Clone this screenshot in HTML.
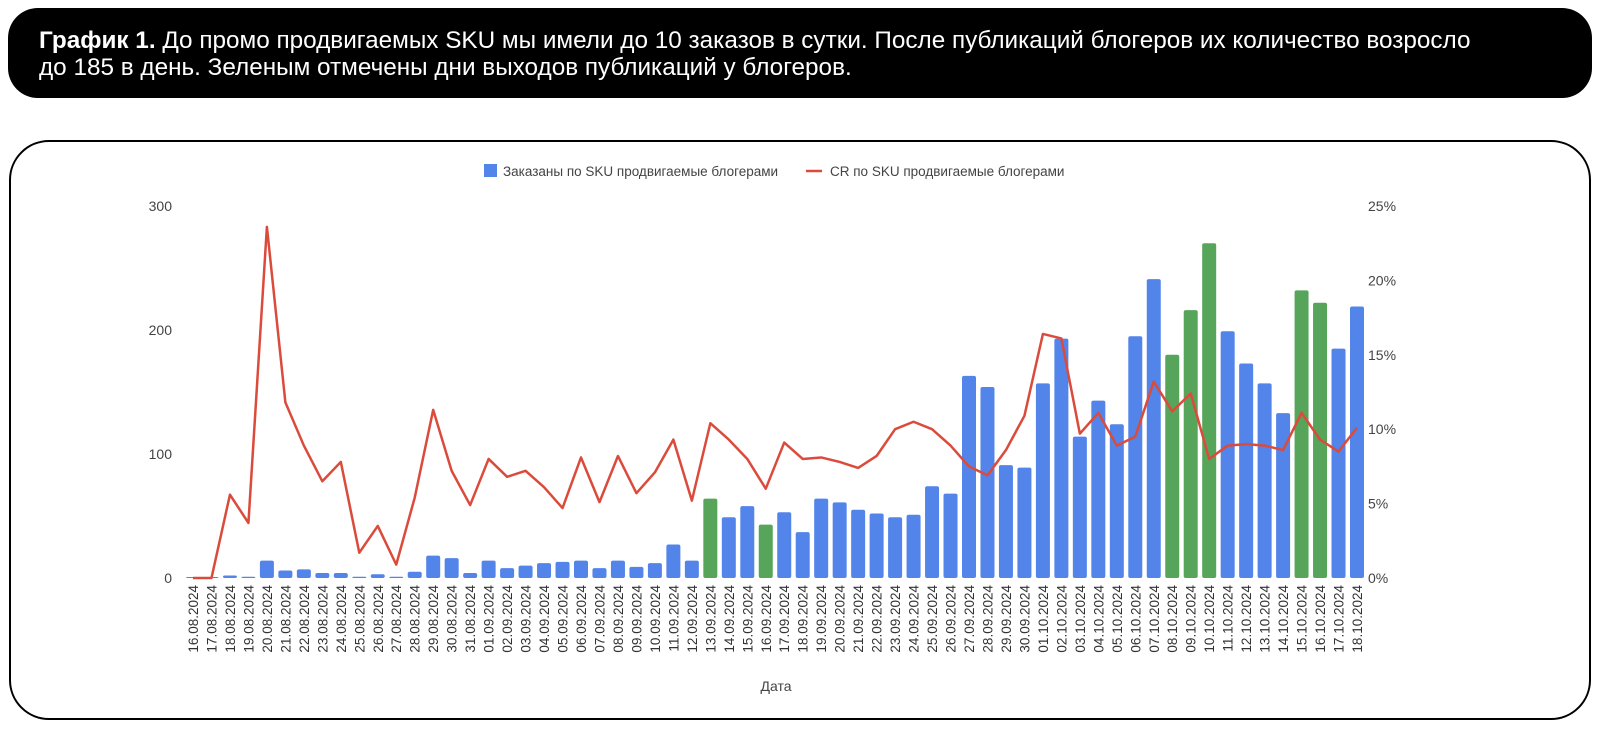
<!DOCTYPE html>
<html><head><meta charset="utf-8">
<style>
body{margin:0;width:1600px;height:733px;background:#fff;font-family:"Liberation Sans",sans-serif;overflow:hidden;position:relative}
#title{position:absolute;left:8px;top:8px;width:1584px;height:90px;background:#000;border-radius:30px;color:#fff;box-sizing:border-box;padding:19px 0 0 31px;font-size:24.3px;line-height:27px;white-space:nowrap}
#box{position:absolute;left:9px;top:140px;width:1582px;height:580px;border:2px solid #000;border-radius:40px;box-sizing:border-box}
svg{position:absolute;left:0;top:0}
</style></head><body>
<div id="title"><b>График 1.</b> До промо продвигаемых SKU мы имели до 10 заказов в сутки. После публикаций блогеров их количество возросло<br>до 185 в день. Зеленым отмечены дни выходов публикаций у блогеров.</div>
<div id="box"></div>
<svg id="chart" width="1600" height="733"></svg>
<script>
const dates=["16.08","17.08","18.08","19.08","20.08","21.08","22.08","23.08","24.08","25.08","26.08","27.08","28.08","29.08","30.08","31.08","01.09","02.09","03.09","04.09","05.09","06.09","07.09","08.09","09.09","10.09","11.09","12.09","13.09","14.09","15.09","16.09","17.09","18.09","19.09","20.09","21.09","22.09","23.09","24.09","25.09","26.09","27.09","28.09","29.09","30.09","01.10","02.10","03.10","04.10","05.10","06.10","07.10","08.10","09.10","10.10","11.10","12.10","13.10","14.10","15.10","16.10","17.10","18.10"];
const orders=[0,0,2,1,14,6,7,4,4,1,3,1,5,18,16,4,14,8,10,12,13,14,8,14,9,12,27,14,64,49,58,43,53,37,64,61,55,52,49,51,74,68,163,154,91,89,157,193,114,143,124,195,241,180,216,270,199,173,157,133,232,222,185,219];
const cr=[0,0,5.6,3.7,23.6,11.8,8.9,6.5,7.8,1.7,3.5,0.9,5.4,11.3,7.2,4.9,8.0,6.8,7.2,6.1,4.7,8.1,5.1,8.2,5.7,7.1,9.3,5.2,10.4,9.3,8.0,6.0,9.1,8.0,8.1,7.8,7.4,8.2,10.0,10.5,10.0,8.9,7.5,6.9,8.6,10.9,16.4,16.1,9.7,11.1,8.9,9.5,13.2,11.2,12.4,8.0,8.9,9.0,8.9,8.6,11.1,9.3,8.5,10.1];
const greenDays=["13.09","16.09","08.10","09.10","10.10","15.10","16.10"];
const leftTicks=[0,100,200,300];
const rightTicks=[0,5,10,15,20,25];
const svg=document.getElementById('chart');const NS='http://www.w3.org/2000/svg';
const X0=193,STEP=(1357-193)/63,Y0=578,YT=206;
const x=i=>X0+i*STEP;
const yL=v=>Y0-(v/300)*(Y0-YT);
const yR=v=>Y0-(v/25)*(Y0-YT);
function mk(t,a){const e=document.createElementNS(NS,t);for(const k in a)e.setAttribute(k,a[k]);svg.appendChild(e);return e;}
leftTicks.forEach(v=>{const t=mk('text',{x:172,y:yL(v)+5,'text-anchor':'end','font-size':14,fill:'#444','font-family':'Liberation Sans'});t.textContent=v;

});
rightTicks.forEach(v=>{const t=mk('text',{x:1368,y:yR(v)+5,'font-size':14,fill:'#444','font-family':'Liberation Sans'});t.textContent=v+'%';

});
orders.forEach((v,i)=>{const h=Math.max(Y0-yL(v),1);const g=greenDays.includes(dates[i]);
const r=mk('rect',{x:x(i)-7,y:Y0-h,width:14,height:h,rx:2,fill:g?'#57a55a':'#5284ea'});


const t=mk('text',{transform:`translate(${x(i)+5},585) rotate(-90)`,'text-anchor':'end','font-size':13.5,fill:'#333','font-family':'Liberation Sans'});t.textContent=dates[i]+'.2024';

});
const p=mk('polyline',{points:cr.map((v,i)=>x(i)+','+yR(v)).join(' '),fill:'none',stroke:'#db4b3c','stroke-width':2.5,'stroke-linejoin':'round'});


const xt=mk('text',{x:776,y:691,'text-anchor':'middle','font-size':14,fill:'#444','font-family':'Liberation Sans'});xt.textContent='Дата';


const l1=mk('rect',{x:484,y:164,width:13,height:13,fill:'#5284ea'});


const lt1=mk('text',{x:503,y:176,'font-size':13.5,fill:'#444','font-family':'Liberation Sans'});lt1.textContent='Заказаны по SKU продвигаемые блогерами';


const l2=mk('line',{x1:806,y1:171,x2:822,y2:171,stroke:'#db4b3c','stroke-width':2.5});


const lt2=mk('text',{x:830,y:176,'font-size':13.5,fill:'#444','font-family':'Liberation Sans'});lt2.textContent='CR по SKU продвигаемые блогерами';


</script>
</body></html>
